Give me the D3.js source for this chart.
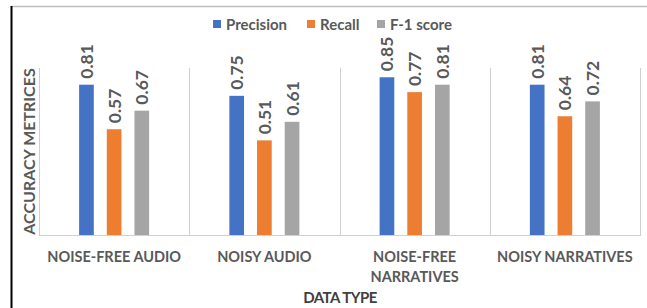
<!DOCTYPE html>
<html><head><meta charset="utf-8">
<script src="https://cdn.jsdelivr.net/npm/d3@7"></script>
<style>
html,body{margin:0;padding:0;background:#fff;}
svg{display:block;}
text{font-family:Lato,"Open Sans",sans-serif;font-weight:bold;fill:#595959;}
</style></head><body>
<script>
const categories = ["NOISE-FREE AUDIO", "NOISY AUDIO", "NOISE-FREE NARRATIVES", "NOISY NARRATIVES"];
const categoryLines = [["NOISE-FREE AUDIO"], ["NOISY AUDIO"], ["NOISE-FREE", "NARRATIVES"], ["NOISY NARRATIVES"]];
const seriesNames = ["Precision", "Recall", "F-1 score"];
const precision = [0.81, 0.75, 0.85, 0.81];
const recall = [0.57, 0.51, 0.77, 0.64];
const f1 = [0.67, 0.61, 0.81, 0.72];
const colors = ["#4472c4", "#ed7d31", "#a5a5a5"];
const yMax = 0.9;

(function () {
const W = 647, H = 308;
const svg = d3.select("body").append("svg").attr("width", W).attr("height", H);

// outer frame
svg.append("line").attr("x1", 11).attr("x2", 647).attr("y1", 6.5).attr("y2", 6.5).attr("stroke", "#bfbfbf").attr("stroke-width", 1.5);
svg.append("line").attr("x1", 11.5).attr("x2", 11.5).attr("y1", 6).attr("y2", 308).attr("stroke", "#000").attr("stroke-width", 2);

const pLeft = 39, pRight = 640, pTop = 68, pBottom = 235;
const x = d3.scaleBand().domain(categories).range([pLeft, pRight]).padding(0);
const y = d3.scaleLinear().domain([0, yMax]).range([pBottom, pTop]);
const xs = d3.scaleBand().domain(seriesNames).range([0, x.bandwidth()]).paddingInner(0.47).paddingOuter(1.45);

const series = [precision, recall, f1];

// category gridlines
const g = svg.append("g");
const bounds = categories.map(c => x(c)).concat([pRight]);
g.selectAll("line.grid").data(bounds).enter().append("line")
  .attr("x1", d => Math.round(d) + 0.5).attr("x2", d => Math.round(d) + 0.5)
  .attr("y1", pTop).attr("y2", pBottom)
  .attr("stroke", "#d0d0d0").attr("stroke-width", 1);
g.append("line").attr("x1", pLeft).attr("x2", pRight + 1).attr("y1", pBottom + 0.5).attr("y2", pBottom + 0.5)
  .attr("stroke", "#d0d0d0").attr("stroke-width", 1);

// bars
seriesNames.forEach((s, si) => {
  const data = categories.map((c, i) => ({c, v: series[si][i]}));
  svg.append("g").selectAll("rect").data(data).enter().append("rect")
    .attr("x", d => x(d.c) + xs(s))
    .attr("width", xs.bandwidth())
    .attr("y", d => y(d.v))
    .attr("height", d => pBottom - y(d.v))
    .attr("fill", colors[si]);
  svg.append("g").selectAll("text").data(data).enter().append("text")
    .attr("transform", d => `translate(${x(d.c) + xs(s) + xs.bandwidth() / 2 + 6.5},${y(d.v) - 6}) rotate(-90)`)
    .attr("text-anchor", "start")
    .style("font-size", "17.5px")
    .text(d => d.v.toFixed(2));
});

// x labels
categories.forEach((c, i) => {
  const t = svg.append("text").attr("text-anchor", "middle").style("font-size", "14.5px")
    .attr("x", x(c) + x.bandwidth() / 2).attr("y", 262);
  categoryLines[i].forEach((ln, li) => {
    t.append("tspan").attr("x", x(c) + x.bandwidth() / 2).attr("dy", li === 0 ? 0 : 20).text(ln);
  });
});

// axis titles
svg.append("text").attr("x", 340).attr("y", 303).attr("text-anchor", "middle").style("font-size", "15px")
  .style("letter-spacing", "-0.5px").style("fill", "#404040").text("DATA TYPE");
svg.append("text").attr("transform", `translate(35,${(pTop + pBottom) / 2}) rotate(-90)`).attr("text-anchor", "middle")
  .style("font-size", "16px").text("ACCURACY METRICES");

// legend
const legX = [213, 307, 377];
seriesNames.forEach((s, i) => {
  svg.append("rect").attr("x", legX[i]).attr("y", 20).attr("width", 8).attr("height", 8).attr("fill", colors[i]);
  svg.append("text").attr("x", legX[i] + 13).attr("y", 29.5).style("font-size", "15px").text(s);
});
})();
</script>
</body></html>
